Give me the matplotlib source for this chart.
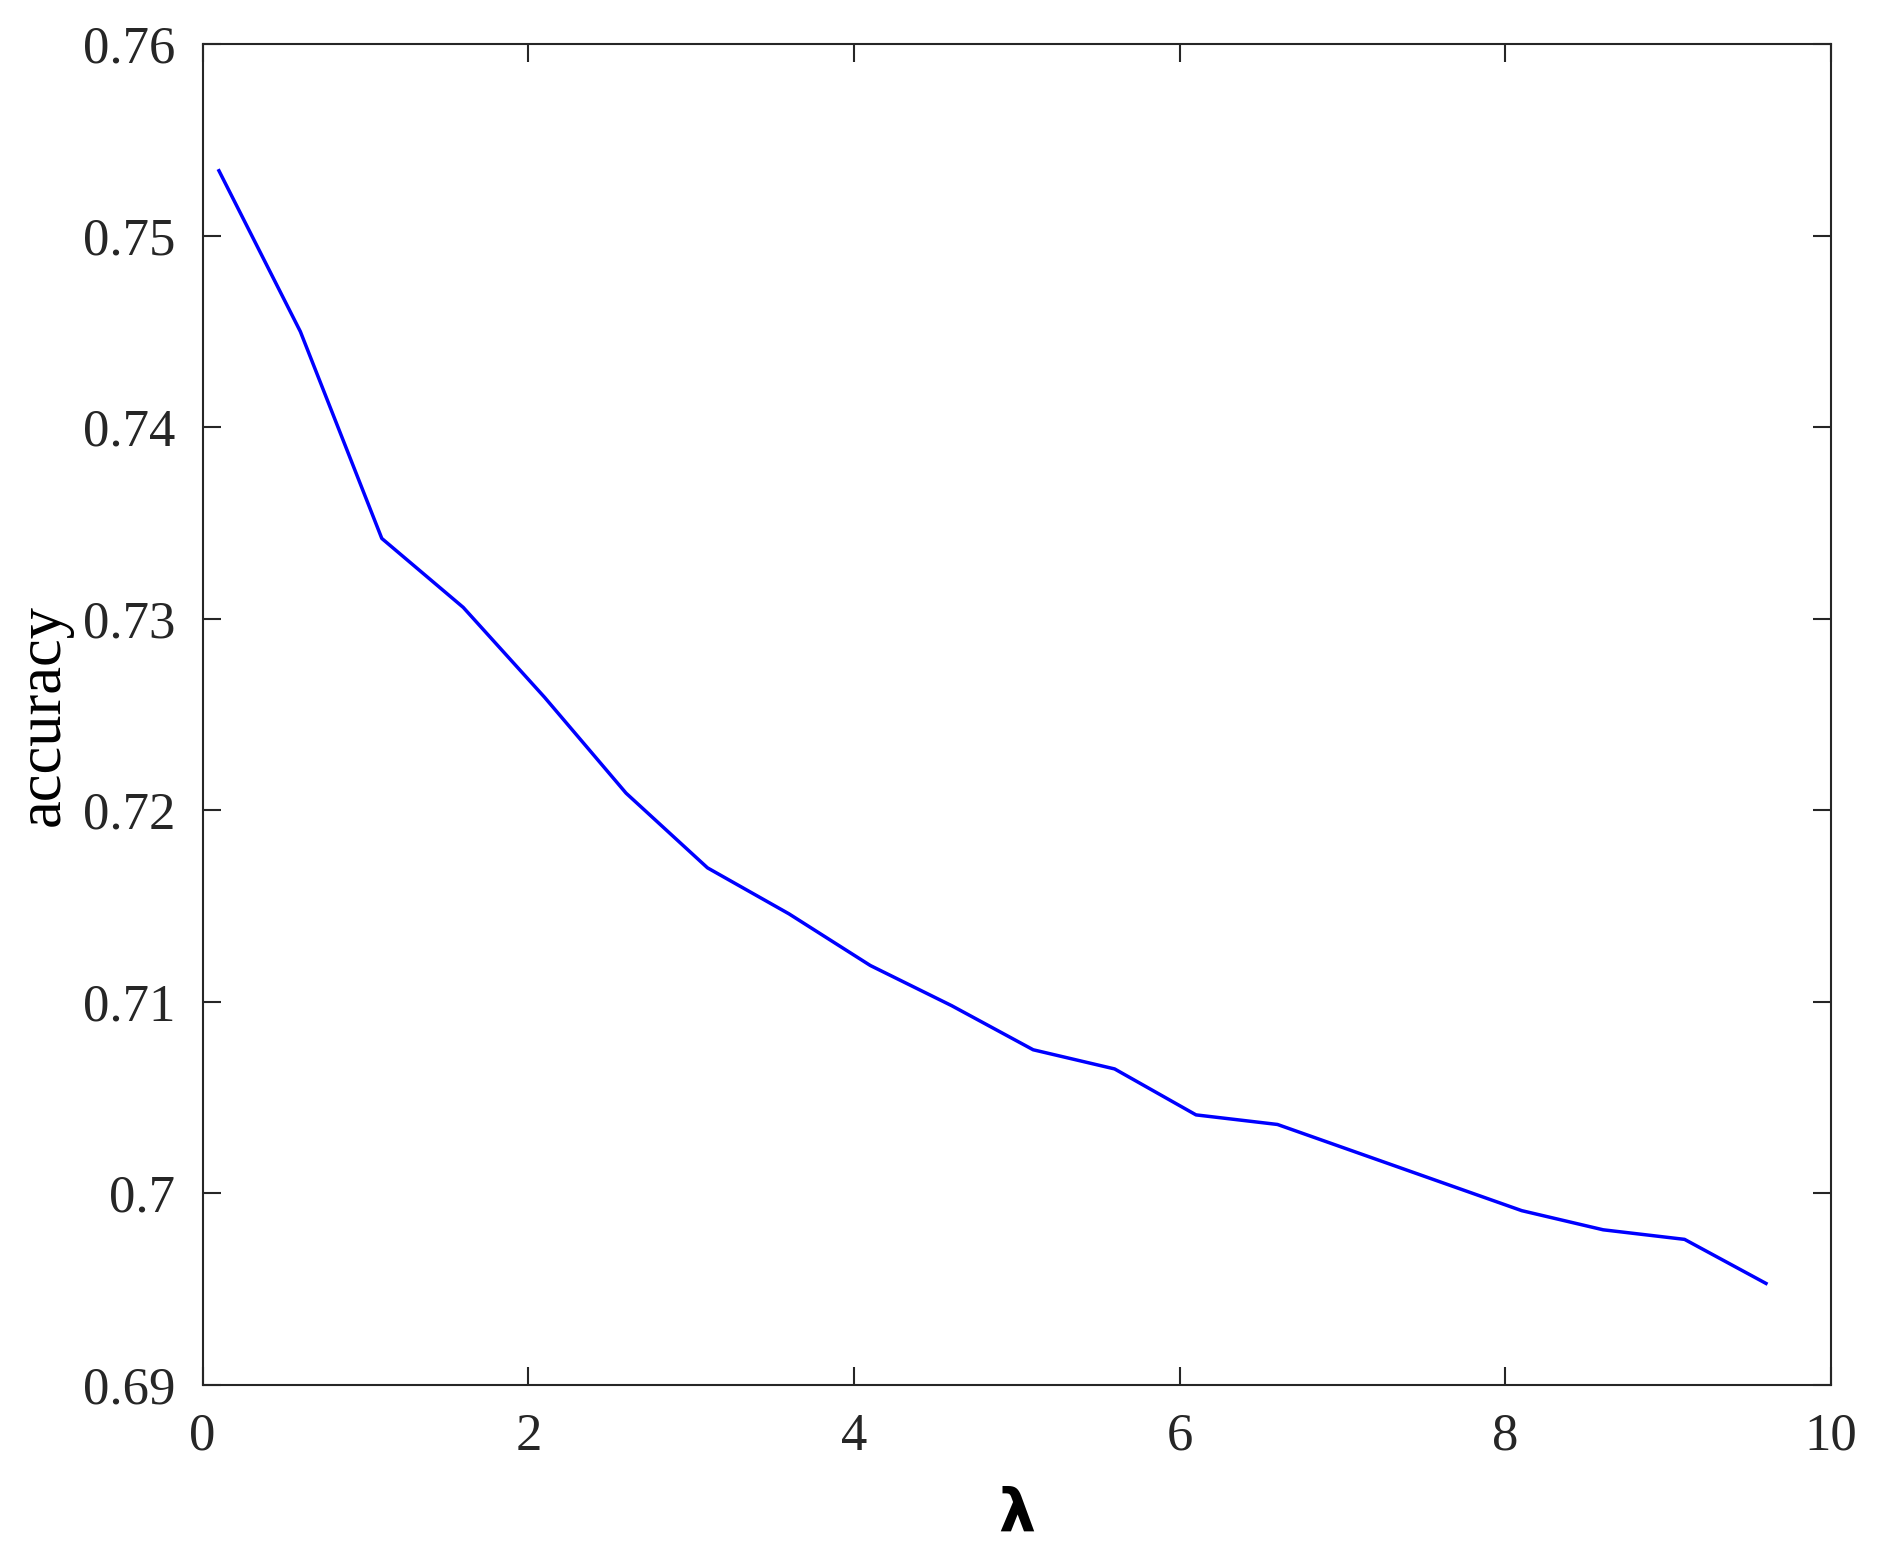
import matplotlib.pyplot as plt

# lambda values and accuracy
lam = [0.1, 0.6, 1.1, 1.6, 2.1, 2.6, 3.1, 3.6, 4.1, 4.6,
       5.1, 5.6, 6.1, 6.6, 7.1, 7.6, 8.1, 8.6, 9.1, 9.6]
accuracy = [0.7534, 0.7450, 0.7342, 0.7306, 0.7259, 0.7209, 0.7170, 0.7146, 0.7119, 0.7098,
            0.7075, 0.7065, 0.7041, 0.7036, 0.7021, 0.7006, 0.6991, 0.6981, 0.6976, 0.6953]

xticks = [0, 2, 4, 6, 8, 10]
yticks = [0.69, 0.70, 0.71, 0.72, 0.73, 0.74, 0.75, 0.76]
ytick_labels = ['0.69', '0.7', '0.71', '0.72', '0.73', '0.74', '0.75', '0.76']

plt.rcParams['font.family'] = ['Liberation Serif', 'DejaVu Serif']
axis_color = '#262626'

fig = plt.figure(figsize=(18.8, 15.61), dpi=100)
ax = fig.add_axes([0.1078, 0.1128, 0.8662, 0.8588])

ax.plot(lam, accuracy, color='#0000ff', linewidth=2.5)

ax.set_xlim(0, 10)
ax.set_ylim(0.69, 0.76)
ax.set_xticks(xticks)
ax.set_xticklabels([str(t) for t in xticks])
ax.set_yticks(yticks)
ax.set_yticklabels(ytick_labels)

ax.tick_params(direction='in', length=13, width=1.5, top=True, right=True,
               labelsize=38, colors=axis_color, pad=20)
for s in ax.spines.values():
    s.set_linewidth(1.5)
    s.set_color(axis_color)

ax.set_xlabel('λ', fontsize=42, fontweight='bold', family='DejaVu Sans', labelpad=18)
ax.set_ylabel('accuracy', fontsize=45, labelpad=7)

fig.savefig('out.png', dpi=100)
